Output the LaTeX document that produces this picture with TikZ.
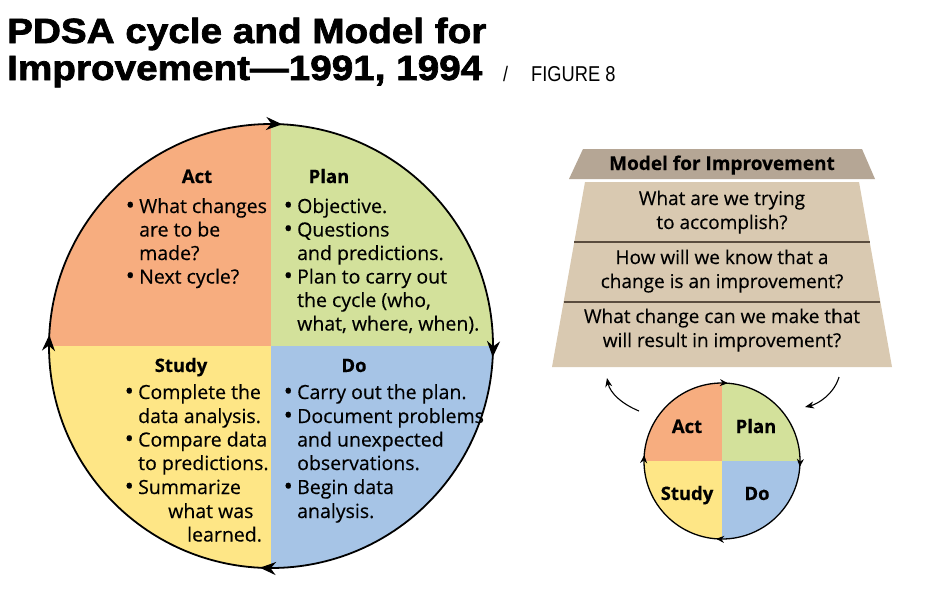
\documentclass[tikz,border=0pt]{standalone}
\usepackage{fontspec}
\setmainfont[FakeBold=0.35]{Open Sans}
\newfontfamily\titlefont[FakeStretch=1.105,FakeBold=2]{Liberation Sans}
\newfontfamily\figfont[FakeStretch=0.85]{Liberation Sans}
\usetikzlibrary{arrows.meta,decorations.markings}
\definecolor{actc}{RGB}{247,173,127}
\definecolor{planc}{RGB}{211,225,155}
\definecolor{studyc}{RGB}{254,230,134}
\definecolor{doc}{RGB}{166,196,230}
\definecolor{headc}{RGB}{181,166,149}
\definecolor{bodyc}{RGB}{217,201,177}
\definecolor{divc}{RGB}{90,76,62}
\newcommand{\mybul}{\makebox[12pt][l]{\hspace{-1.5pt}\raisebox{-0.03em}{\scalebox{1.25}{\textbullet}}}}
\begin{document}
\begin{tikzpicture}[x=1pt,y=-1pt,
  txt/.style={anchor=base west,inner sep=0pt,font=\fontsize{19.5}{23}\selectfont},
  hd/.style={anchor=base,inner sep=0pt,font=\bfseries\fontsize{18.5}{22}\selectfont},
  trap/.style={anchor=base,inner sep=0pt,font=\fontsize{19}{22}\selectfont},
  bigcyc/.style={line width=1.8pt,postaction={decorate},
    decoration={markings,
      mark=at position 0.008 with {\arrow{Stealth[length=16pt,width=13pt]}},
      mark=at position 0.258 with {\arrow{Stealth[length=16pt,width=13pt]}},
      mark=at position 0.508 with {\arrow{Stealth[length=16pt,width=13pt]}},
      mark=at position 0.758 with {\arrow{Stealth[length=16pt,width=13pt]}}}},
  smallcyc/.style={line width=1.3pt,postaction={decorate},
    decoration={markings,
      mark=at position 0.012 with {\arrow{Stealth[length=8pt,width=7pt]}},
      mark=at position 0.262 with {\arrow{Stealth[length=8pt,width=7pt]}},
      mark=at position 0.512 with {\arrow{Stealth[length=8pt,width=7pt]}},
      mark=at position 0.762 with {\arrow{Stealth[length=8pt,width=7pt]}}}},
  curvearrow/.style={line width=1.1pt,-{Stealth[length=9pt,width=7pt]}}]
\useasboundingbox (0,0) rectangle (941,595);
\fill[white] (0,0) rectangle (941,595);

% Title
\node[anchor=base west,inner sep=0pt,font=\titlefont\bfseries\fontsize{35}{37}\selectfont] (t1) at (7,43) {PDSA cycle and Model for};
\node[anchor=base west,inner sep=0pt,font=\titlefont\bfseries\fontsize{35}{37}\selectfont] (t2) at (7,80) {Improvement—1991, 1994};
\node[anchor=base west,inner sep=0pt,font=\figfont\fontsize{21}{24}\selectfont] (slash) at (503,81) {/};
\node[anchor=base west,inner sep=0pt,font=\figfont\fontsize{21.5}{24}\selectfont] (fig) at (531,81) {FIGURE 8};

% Big PDSA circle
\coordinate (bigc) at (271,346);
\begin{scope}
  \clip (bigc) circle (222);
  \fill[actc] (bigc) rectangle ++(-230,-230);
  \fill[planc] (bigc) rectangle ++(230,-230);
  \fill[studyc] (bigc) rectangle ++(-230,230);
  \fill[doc] (bigc) rectangle ++(230,230);
\end{scope}
\draw[bigcyc] (bigc) circle (222);

% Act
\node[hd] (acth) at (197,183) {Act};
\node[txt] (act1) at (127,213) {\mybul What changes};
\node[txt] (act2) at (139,236.5) {are to be};
\node[txt] (act3) at (139,260) {made?};
\node[txt] (act4) at (127,283.5) {\mybul Next cycle?};
% Plan
\node[hd] (planh) at (329,183) {Plan};
\node[txt] (plan1) at (285,213) {\mybul Objective.};
\node[txt] (plan2) at (285,236.5) {\mybul Questions};
\node[txt] (plan3) at (297,260) {and predictions.};
\node[txt] (plan4) at (285,283.5) {\mybul Plan to carry out};
\node[txt] (plan5) at (297,307) {the cycle (who,};
\node[txt] (plan6) at (297,330.5) {what, where, when).};
% Study
\node[hd] (studyh) at (181,372) {Study};
\node[txt] (study1) at (126,399) {\mybul Complete the};
\node[txt] (study2) at (138,423) {data analysis.};
\node[txt] (study3) at (126,446.5) {\mybul Compare data};
\node[txt] (study4) at (138,470) {to predictions.};
\node[txt] (study5) at (126,494) {\mybul Summarize};
\node[txt] (study6) at (168,518) {what was};
\node[txt] (study7) at (187,541.5) {learned.};
% Do
\node[hd] (doh) at (354,372) {Do};
\node[txt] (do1) at (285,399) {\mybul Carry out the plan.};
\node[txt] (do2) at (285,423) {\mybul Document problems};
\node[txt] (do3) at (297,446.5) {and unexpected};
\node[txt] (do4) at (297,470) {observations.};
\node[txt] (do5) at (285,494) {\mybul Begin data};
\node[txt] (do6) at (297,518) {analysis.};

% Model for Improvement trapezoid
\fill[headc] (583,149) -- (862,149) -- (875,179) -- (569,179) -- cycle;
\fill[bodyc] (585,182) -- (859,182) -- (892,367) -- (552,367) -- cycle;
\coordinate (d1l) at (574.3,242);
\coordinate (d1r) at (869.7,242);
\coordinate (d2l) at (563.6,302);
\coordinate (d2r) at (880.4,302);
\draw[divc,line width=1.5pt] (d1l) -- (d1r);
\draw[divc,line width=1.5pt] (d2l) -- (d2r);
\node[hd,font=\bfseries\fontsize{19}{22}\selectfont] (mfi) at (722,170) {Model for Improvement};
\node[trap] (q1a) at (722,205) {What are we trying};
\node[trap] (q1b) at (722,229) {to accomplish?};
\node[trap] (q2a) at (722,264) {How will we know that a};
\node[trap] (q2b) at (722,288) {change is an improvement?};
\node[trap] (q3a) at (722,323) {What change can we make that};
\node[trap] (q3b) at (722,347) {will result in improvement?};

% Small PDSA circle
\coordinate (smc) at (722,461);
\begin{scope}
  \clip (smc) circle (78);
  \fill[actc] (smc) rectangle ++(-85,-85);
  \fill[planc] (smc) rectangle ++(85,-85);
  \fill[studyc] (smc) rectangle ++(-85,85);
  \fill[doc] (smc) rectangle ++(85,85);
\end{scope}
\draw[smallcyc] (smc) circle (78);
\node[hd] (sact) at (687,433) {Act};
\node[hd] (splan) at (756,433) {Plan};
\node[hd] (sstudy) at (687,500) {Study};
\node[hd] (sdo) at (757,500) {Do};

% Curved arrows
\coordinate (la1) at (639,411);
\coordinate (la2) at (607,378);
\coordinate (ra1) at (839,377);
\coordinate (ra2) at (805,407);
\draw[curvearrow] (la1) .. controls (622,404) and (610,393) .. (la2);
\draw[curvearrow] (ra1) .. controls (834,394) and (818,404) .. (ra2);
\end{tikzpicture}
\end{document}
